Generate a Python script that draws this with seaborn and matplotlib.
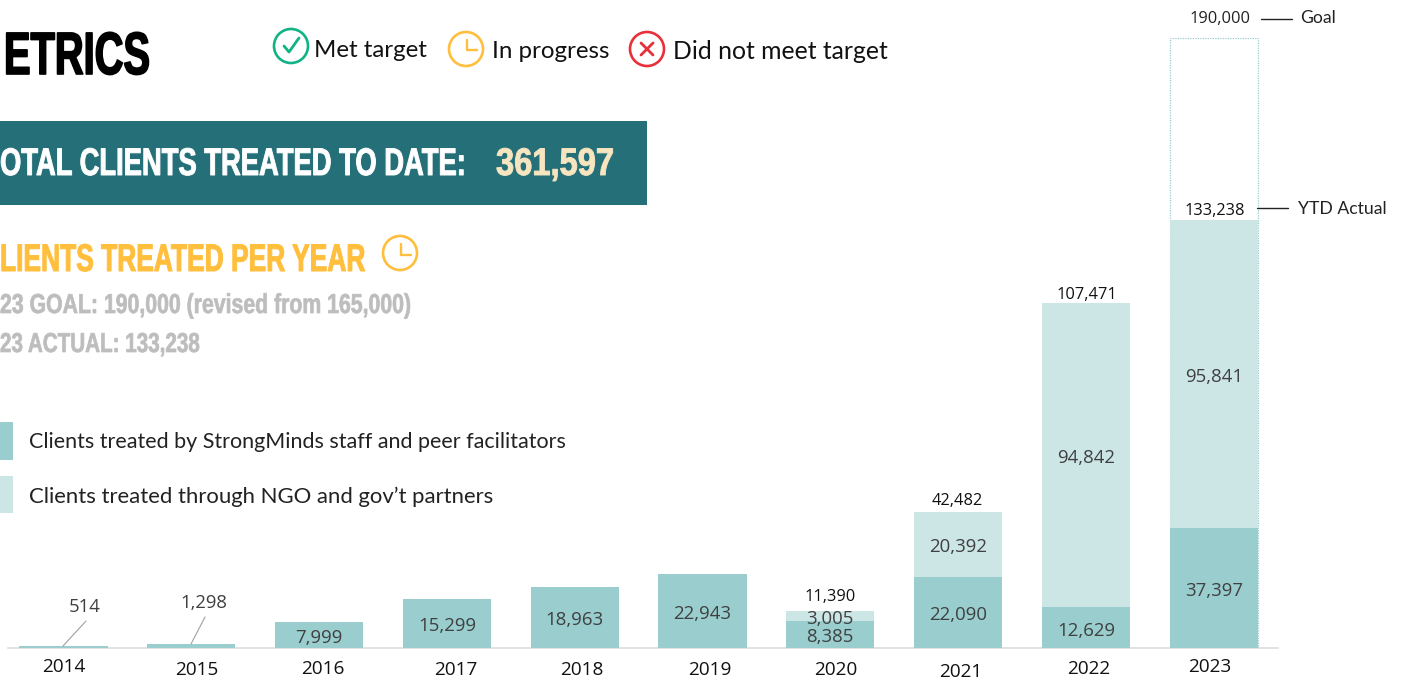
import numpy as np
import pandas as pd
import matplotlib
matplotlib.use("Agg")
import matplotlib.pyplot as plt
from matplotlib.patches import Circle, Rectangle
from matplotlib.patheffects import AbstractPathEffect
from matplotlib.transforms import Affine2D, Bbox
import seaborn as sns

years = ["2014", "2015", "2016", "2017", "2018", "2019", "2020", "2021", "2022", "2023"]
staff = [514, 1298, 7999, 15299, 18963, 22943, 8385, 22090, 12629, 37397]
partners = [0, 0, 0, 0, 0, 0, 3005, 20392, 94842, 95841]
goal = [np.nan] * 9 + [190000]
totals = {"2020": 11390, "2021": 42482, "2022": 107471, "2023": 133238}

STAFF_C = "#99CDCE"
PART_C = "#CCE6E6"
TEAL = "#246F78"
GOLD = "#FFBE3B"
GREY = "#BDBDBD"
CREAM = "#F7E5C0"
GREEN = "#10B384"
RED = "#E8303A"
HEAVY = ["Liberation Sans", "DejaVu Sans"]
BODY = ["Lato", "DejaVu Sans"]
NUM = ["Open Sans", "DejaVu Sans"]

sns.set_theme(style="white")
W, H = 1403, 685
fig = plt.figure(figsize=(W / 100, H / 100), dpi=100)

ax = fig.add_axes([8 / W, (H - 648) / H, 1270 / W, 610 / H])
df = pd.DataFrame({"year": years, "staff": staff, "partners": partners, "goal": goal})
sns.barplot(data=df, x="year", y="goal", ax=ax, color="white", width=0.69, fill=False,
            linewidth=0.9, linestyle=(0, (1, 1)), edgecolor=STAFF_C, saturation=1)
sns.barplot(data=df, x="year", y="staff", ax=ax, color=STAFF_C, width=0.69, saturation=1,
            linewidth=0)
sns.barplot(data=df, x="year", y="partners", bottom=df["staff"], ax=ax, color=PART_C,
            width=0.69, saturation=1, linewidth=0)
ax.set_xlim(-0.434, 9.503)
ax.set_ylim(0, 190000)
ax.patch.set_alpha(0)
ax.set_xlabel("")
ax.set_ylabel("")
ax.set_yticks([])
ax.set_xticks([])
sns.despine(ax=ax, left=True, top=True, right=True)
ax.spines["bottom"].set_color("#DDDDDD")
ax.spines["bottom"].set_linewidth(1.2)
ax.spines["bottom"].set_zorder(0.5)

DARK = "#404040"


def bar_label(i, v, s):
    ax.annotate(s, (i, v), xytext=(0, -2), textcoords="offset points", ha="center",
                va="center", fontsize=13.4, color=DARK, family=NUM)


for i, (y, s, p) in enumerate(zip(years, staff, partners)):
    if s < 2000:
        continue
    bar_label(i, s / 2, f"{s:,}")
    if p:
        bar_label(i, s + p / 2, f"{p:,}")

ov = fig.add_axes([0, 0, 1, 1], zorder=5)
ov.set_xlim(0, W)
ov.set_ylim(H, 0)
ov.axis("off")
ov.patch.set_alpha(0)


def T(x, y, s, size, color="black", fam=BODY, ha="left", **kw):
    return ov.text(x, y, s, fontsize=size, color=color, family=fam, ha=ha, va="center", **kw)


class Squeeze(AbstractPathEffect):
    """Draw a text narrower than its font, with a slight stroke to keep it heavy."""

    def __init__(self, x0, sx, stroke, color):
        super().__init__()
        self.x0, self.sx, self.stroke, self.color = x0, sx, stroke, color

    def draw_path(self, renderer, gc, tpath, affine, rgbFace=None):
        a = affine + Affine2D().translate(-self.x0, 0).scale(self.sx, 1).translate(self.x0, 0)
        g = renderer.new_gc()
        g.copy_properties(gc)
        g.set_foreground(self.color)
        g.set_linewidth(self.stroke)
        renderer.draw_path(g, tpath, a, rgbFace)
        g.restore()


def condensed(x0, x1, base, s, size, color, stroke=0.7):
    t = ov.text(x0, base, s, fontsize=size, color=color, family=HEAVY, fontweight="bold",
                ha="left", va="baseline")
    full = t.get_window_extent(fig.canvas.get_renderer())
    t.set_path_effects([Squeeze(x0, (x1 - x0) / full.width, stroke, color)])
    # report the box the text really occupies once narrowed
    narrowed = Bbox.from_extents(x0, full.y0, x1, full.y1)
    t.get_window_extent = lambda renderer=None, dpi=None: narrowed
    return t


tick_pos = [(64, 667), (197, 670), (323, 669), (456, 670), (582, 670), (710, 670),
            (836, 670), (961, 672), (1089, 669), (1210, 667)]
for (x, y), lab in zip(tick_pos, years):
    T(x, y, lab, 13.7, "#111111", NUM, "center")

T(85, 607, "514", 13.3, DARK, NUM, "center")
T(204, 603, "1,298", 13.3, DARK, NUM, "center")
ov.plot([63, 86], [646, 621], color="#A0A0A0", lw=0.8)
ov.plot([191, 205], [644, 617], color="#A0A0A0", lw=0.8)
T(830, 597, f"{totals['2020']:,}", 11.8, "#111111", NUM, "center")
T(957, 501, f"{totals['2021']:,}", 11.8, "#111111", NUM, "center")
T(1087, 295, f"{totals['2022']:,}", 11.8, "#111111", NUM, "center")
T(1215, 211, f"{totals['2023']:,}", 11.8, "#111111", NUM, "center")
T(1220, 19, "190,000", 11.8, "#222222", NUM, "center")
ov.plot([1261, 1292], [19, 19], color="#222222", lw=1)
T(1300, 18, "Goal", 12.6, "#222222", BODY)
ov.plot([1257, 1288], [208, 208], color="#222222", lw=1)
T(1298, 209, "YTD Actual", 12.7, "#222222", BODY)

condensed(4, 150, 74, "ETRICS", 43, "black", 1.2)

T(314, 50, "Met target", 17.3, "#111111", BODY)
T(492, 51, "In progress", 17.4, "#111111", BODY)
T(673, 51, "Did not meet target", 17.8, "#111111", BODY)


def ring(x, y, r, c):
    ov.add_patch(Circle((x, y), r, fill=False, ec=c, lw=1.9))


ring(291, 46, 17, GREEN)
ov.plot([284, 289, 299], [46, 52, 38], color=GREEN, lw=2)
ring(466, 49, 17, GOLD)
ov.plot([467, 467, 477], [40, 50, 50], color=GOLD, lw=1.7)
ring(647, 49, 17, RED)
ov.plot([641, 653], [43, 55], color=RED, lw=2)
ov.plot([641, 653], [55, 43], color=RED, lw=2)

ov.add_patch(Rectangle((-5, 121), 652, 84, color=TEAL, lw=0))
condensed(0, 466, 175, "OTAL CLIENTS TREATED TO DATE:", 27.7, "white")
condensed(496, 614, 175, "361,597", 27.7, CREAM)

condensed(0, 366, 271, "LIENTS TREATED PER YEAR", 27.7, GOLD)
ring(400, 253, 17, GOLD)
ov.plot([401, 401, 411], [244, 255, 255], color=GOLD, lw=1.7)
condensed(0, 412, 313, "23 GOAL: 190,000 (revised from 165,000)", 19.7, GREY, 0.5)
condensed(0, 200, 352, "23 ACTUAL: 133,238", 19.7, GREY, 0.5)

ov.add_patch(Rectangle((-5, 422), 18, 38, color=STAFF_C, lw=0))
ov.add_patch(Rectangle((-5, 476), 18, 37, color=PART_C, lw=0))
T(29, 442, "Clients treated by StrongMinds staff and peer facilitators", 15.45, "#222222", BODY)
T(29, 497, "Clients treated through NGO and gov\u2019t partners", 15.9, "#222222", BODY)

fig.savefig("out.png", dpi=100)
